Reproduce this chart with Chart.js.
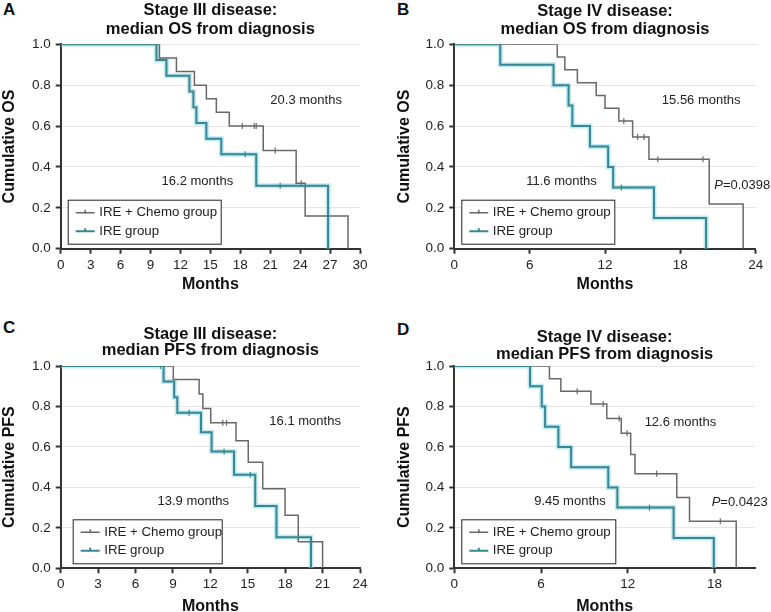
<!DOCTYPE html>
<html>
<head>
<meta charset="utf-8">
<script src="https://cdn.jsdelivr.net/npm/chart.js@4.4.1/dist/chart.umd.min.js"></script>
<style>
  html, body { margin: 0; padding: 0; background: #fff; overflow: hidden; }
  body { width: 771px; height: 612px; position: relative; font-family: "Liberation Sans", Arial, sans-serif; }
  .panel { position: absolute; }
  .letter { position: absolute; font-weight: bold; font-size: 17px; color: #111; line-height: 1; }
</style>
</head>
<body>
<div class="letter" style="left:3px;top:1px">A</div>
<div class="letter" style="left:397px;top:1px">B</div>
<div class="letter" style="left:3px;top:319px">C</div>
<div class="letter" style="left:397px;top:321px">D</div>
<div class="panel" style="left:0;top:0;width:385px;height:305px"><canvas id="chartA"></canvas></div>
<div class="panel" style="left:385px;top:0;width:386px;height:305px"><canvas id="chartB"></canvas></div>
<div class="panel" style="left:0;top:305px;width:385px;height:330px"><canvas id="chartC"></canvas></div>
<div class="panel" style="left:385px;top:305px;width:386px;height:330px"><canvas id="chartD"></canvas></div>
<script>
// ---- data (months, cumulative survival) ----
// A: stage III, OS
const osIIIChemoMonths = [0, 9.9, 11.6, 13.4, 14.6, 15.6, 16.9, 20.3, 23.6, 24.5, 28.8];
const osIIIChemoSurv   = [1, 0.933, 0.867, 0.8, 0.733, 0.667, 0.6, 0.48, 0.32, 0.16, 0];
const osIIIChemoCens   = [18.2, 19.4, 19.6, 21.5, 24.1];
const osIIIIreMonths   = [0, 9.6, 10.6, 12.9, 13.3, 13.6, 14.6, 16.1, 19.6, 26.8];
const osIIIIreSurv     = [1, 0.923, 0.846, 0.769, 0.692, 0.615, 0.538, 0.462, 0.308, 0];
const osIIIIreCens     = [18.5, 22.0];

// B: stage IV, OS
const osIVChemoMonths = [0, 8.2, 8.8, 9.8, 11.3, 12.0, 13.1, 14.2, 15.5, 20.3, 23.0];
const osIVChemoSurv   = [1, 0.9375, 0.875, 0.8125, 0.75, 0.6875, 0.625, 0.547, 0.4375, 0.219, 0];
const osIVChemoCens   = [13.5, 14.6, 15.1, 16.2, 19.8];
const osIVIreMonths   = [0, 3.66, 7.9, 9.1, 9.4, 10.8, 12.25, 12.65, 15.9, 20.05];
const osIVIreSurv     = [1, 0.9, 0.8, 0.7, 0.6, 0.5, 0.4, 0.3, 0.15, 0];
const osIVIreCens     = [13.3];

// C: stage III, PFS
const pfsIIIChemoMonths = [0, 9.03, 11.1, 11.4, 12.03, 14.06, 15.04, 16.2, 17.99, 19.05, 21.0];
const pfsIIIChemoSurv   = [1, 0.933, 0.862, 0.79, 0.72, 0.63, 0.524, 0.393, 0.262, 0.131, 0];
const pfsIIIChemoCens   = [13.0, 13.3];
const pfsIIIIreMonths   = [0, 8.25, 9.1, 9.35, 11.25, 12.1, 13.9, 15.6, 17.3, 20.07];
const pfsIIIIreSurv     = [1, 0.923, 0.846, 0.769, 0.673, 0.577, 0.462, 0.308, 0.154, 0];
const pfsIIIIreCens     = [8.0, 10.3, 13.1, 15.2];

// D: stage IV, PFS
const pfsIVChemoMonths = [0, 6.58, 7.37, 9.45, 10.55, 11.55, 12.2, 12.5, 15.39, 16.27, 19.5];
const pfsIVChemoSurv   = [1, 0.9375, 0.875, 0.8125, 0.74, 0.667, 0.563, 0.467, 0.35, 0.233, 0];
const pfsIVChemoCens   = [8.5, 10.3, 11.4, 11.95, 14.0, 18.4];
const pfsIVIreMonths   = [0, 5.24, 6.05, 6.28, 7.2, 8.08, 10.65, 11.28, 15.17, 17.95];
const pfsIVIreSurv     = [1, 0.9, 0.8, 0.7, 0.6, 0.5, 0.4, 0.3, 0.15, 0];
const pfsIVIreCens     = [13.5];

const yTicks = [0, 0.2, 0.4, 0.6, 0.8, 1.0];
const seriesNames = ["IRE + Chemo group", "IRE group"];

const FONT = "'Liberation Sans', Arial, sans-serif";
const GRAY = "#686868";
const TEAL = "#368793";
const HALO = "rgba(140, 215, 228, 0.55)";
const TITLE_SIZE = 16.5;

function kmPoints(months, surv) {
    return months.map((m, i) => ({x: m, y: surv[i]}));
}

function levelAt(months, surv, t) {
    let v = surv[0];
    for (let i = 0; i < months.length; i++) {
        if (months[i] <= t) v = surv[i];
    }
    return v;
}

function censorPoints(months, surv, cens) {
    return cens.map(t => ({x: t, y: levelAt(months, surv, t)}));
}

function lineSet(data, color, width) {
    return {type: "line", data: data, borderColor: color, borderWidth: width,
            pointRadius: 0, stepped: "before", fill: false};
}

function censorSet(data, color) {
    return {type: "line", data: data, showLine: false, pointStyle: "line", rotation: 90,
            pointRadius: 3, borderColor: color, borderWidth: 1.2};
}

const kmOverlay = {
    id: "kmOverlay",
    afterDraw(chart) {
        const p = chart.options.plugins.kmOverlay;
        const ctx = chart.ctx, xs = chart.scales.x, ys = chart.scales.y, area = chart.chartArea;
        ctx.save();
        ctx.fillStyle = "#222";
        ctx.textBaseline = "middle";
        ctx.font = "13px " + FONT;
        p.notes.forEach(n => {
            const x = xs.getPixelForValue(n.x), y = ys.getPixelForValue(n.y);
            if (n.p) {
                ctx.textAlign = "left";
                ctx.font = "italic 13px " + FONT;
                ctx.fillText("P", x, y);
                const w = ctx.measureText("P").width;
                ctx.font = "13px " + FONT;
                ctx.fillText(n.text, x + w, y);
            } else {
                ctx.textAlign = "center";
                ctx.fillText(n.text, x, y);
            }
        });
        // legend box
        const x0 = area.left + p.legendDx, y1 = area.bottom - 5, y0 = y1 - 44, w = p.legendW;
        ctx.fillStyle = "#fff";
        ctx.fillRect(x0, y0, w, 44);
        ctx.strokeStyle = "#222";
        ctx.lineWidth = 1;
        ctx.strokeRect(x0 + 0.5, y0 + 0.5, w, 44);
        [[GRAY, 1.5], [TEAL, 2]].forEach(([c, lw], i) => {
            const yy = y0 + 13 + i * 18.5;
            ctx.strokeStyle = c;
            ctx.lineWidth = lw;
            ctx.beginPath();
            ctx.moveTo(x0 + 8, yy); ctx.lineTo(x0 + 27, yy);
            ctx.moveTo(x0 + 17.5, yy - 3); ctx.lineTo(x0 + 17.5, yy + 1);
            ctx.stroke();
            ctx.fillStyle = "#222";
            ctx.textAlign = "left";
            ctx.font = "13.3px " + FONT;
            ctx.fillText(seriesNames[i], x0 + 31.5, yy);
        });
        ctx.restore();
    }
};

function makeChart(cfg) {
    const a = cfg.area;
    const lh = TITLE_SIZE * cfg.titleLH;
    const titleTop = cfg.titleY - lh / 2;
    const xH = cfg.xTitleY - a.b + 9.6;
    new Chart(document.getElementById(cfg.canvas), {
        data: {
            datasets: [
                lineSet(kmPoints(cfg.ireMonths, cfg.ireSurv), TEAL, 2),
                censorSet(censorPoints(cfg.ireMonths, cfg.ireSurv, cfg.ireCens), TEAL),
                lineSet(kmPoints(cfg.chemoMonths, cfg.chemoSurv), GRAY, 1.5),
                censorSet(censorPoints(cfg.chemoMonths, cfg.chemoSurv, cfg.chemoCens), GRAY),
                lineSet(kmPoints(cfg.ireMonths, cfg.ireSurv), HALO, 5)
            ]
        },
        options: {
            responsive: true,
            maintainAspectRatio: false,
            animation: false,
            devicePixelRatio: 1,
            events: [],
            layout: {padding: {left: 0, top: titleTop, right: cfg.w - a.r, bottom: cfg.h - a.b - xH}},
            scales: {
                x: {
                    type: "linear", min: 0, max: cfg.xMax,
                    ticks: {stepSize: cfg.xStep, includeBounds: false, padding: 3, color: "#222",
                            font: {family: FONT, size: 13.5}, maxRotation: 0},
                    grid: {drawOnChartArea: false, tickLength: 5, tickWidth: 2, tickColor: "#333"},
                    border: {color: "#333", width: 2},
                    title: {display: true, text: "Months", color: "#111", padding: 0,
                            font: {family: FONT, size: 16, weight: "bold", lineHeight: 1.2}},
                    afterFit: s => { s.height = xH; }
                },
                y: {
                    min: 0, max: 1,
                    afterBuildTicks: s => { s.ticks = yTicks.map(v => ({value: v})); },
                    ticks: {padding: 5, color: "#222", font: {family: FONT, size: 13.5},
                            callback: v => v.toFixed(1)},
                    grid: {color: "#e6e6e6", lineWidth: 1, tickLength: 5, tickWidth: 2, tickColor: "#333"},
                    border: {color: "#333", width: 2},
                    title: {display: true, text: cfg.yTitle, color: "#111", padding: {top: cfg.yTitleX - 9.6, bottom: 0},
                            font: {family: FONT, size: 16, weight: "bold", lineHeight: 1.2}},
                    afterFit: s => { s.width = a.l; }
                }
            },
            plugins: {
                legend: {display: false},
                tooltip: {enabled: false},
                title: {
                    display: true, text: cfg.title, fullSize: false, color: "#111",
                    font: {family: FONT, size: TITLE_SIZE, weight: "bold", lineHeight: cfg.titleLH},
                    padding: {top: 0, bottom: a.t - titleTop - 2 * lh}
                },
                kmOverlay: {notes: cfg.notes, legendDx: cfg.legendDx, legendW: cfg.legendW}
            }
        },
        plugins: [kmOverlay]
    });
}

makeChart({
    canvas: "chartA", w: 385, h: 305, area: {l: 60.7, t: 44.3, r: 360, b: 248.7},
    titleY: 10.5, titleLH: 1.15, xTitleY: 285, yTitleX: 10, legendDx: 7, legendW: 153,
    title: ["Stage III disease:", "median OS from diagnosis"], yTitle: "Cumulative OS",
    xMax: 30, xStep: 3,
    chemoMonths: osIIIChemoMonths, chemoSurv: osIIIChemoSurv, chemoCens: osIIIChemoCens,
    ireMonths: osIIIIreMonths, ireSurv: osIIIIreSurv, ireCens: osIIIIreCens,
    notes: [{x: 24.6, y: 0.727, text: "20.3 months"}, {x: 13.7, y: 0.331, text: "16.2 months"}]
});

makeChart({
    canvas: "chartB", w: 386, h: 305, area: {l: 69.3, t: 44.3, r: 370.7, b: 248.7},
    titleY: 11.5, titleLH: 1.1, xTitleY: 285, yTitleX: 20, legendDx: 7, legendW: 153,
    title: ["Stage IV disease:", "median OS from diagnosis"], yTitle: "Cumulative OS",
    xMax: 24, xStep: 6,
    chemoMonths: osIVChemoMonths, chemoSurv: osIVChemoSurv, chemoCens: osIVChemoCens,
    ireMonths: osIVIreMonths, ireSurv: osIVIreSurv, ireCens: osIVIreCens,
    notes: [{x: 19.66, y: 0.727, text: "15.56 months"}, {x: 8.54, y: 0.331, text: "11.6 months"},
            {x: 20.7, y: 0.31, text: "=0.0398", p: true}]
});

makeChart({
    canvas: "chartC", w: 385, h: 330, area: {l: 60.7, t: 61, r: 360, b: 263.3},
    titleY: 29, titleLH: 1.0, xTitleY: 301.7, yTitleX: 10, legendDx: 12, legendW: 149,
    title: ["Stage III disease:", "median PFS from diagnosis"], yTitle: "Cumulative PFS",
    xMax: 24, xStep: 3,
    chemoMonths: pfsIIIChemoMonths, chemoSurv: pfsIIIChemoSurv, chemoCens: pfsIIIChemoCens,
    ireMonths: pfsIIIIreMonths, ireSurv: pfsIIIIreSurv, ireCens: pfsIIIIreCens,
    notes: [{x: 19.6, y: 0.725, text: "16.1 months"}, {x: 10.63, y: 0.331, text: "13.9 months"}]
});

makeChart({
    canvas: "chartD", w: 386, h: 330, area: {l: 69.3, t: 61, r: 370, b: 263.3},
    titleY: 32.5, titleLH: 1.0, xTitleY: 301.7, yTitleX: 20, legendDx: 7, legendW: 154,
    title: ["Stage IV disease:", "median PFS from diagnosis"], yTitle: "Cumulative PFS",
    xMax: 20.8, xStep: 6,
    chemoMonths: pfsIVChemoMonths, chemoSurv: pfsIVChemoSurv, chemoCens: pfsIVChemoCens,
    ireMonths: pfsIVIreMonths, ireSurv: pfsIVIreSurv, ireCens: pfsIVIreCens,
    notes: [{x: 15.64, y: 0.721, text: "12.6 months"}, {x: 8.0, y: 0.331, text: "9.45 months"},
            {x: 17.8, y: 0.325, text: "=0.0423", p: true}]
});
</script>
</body>
</html>
